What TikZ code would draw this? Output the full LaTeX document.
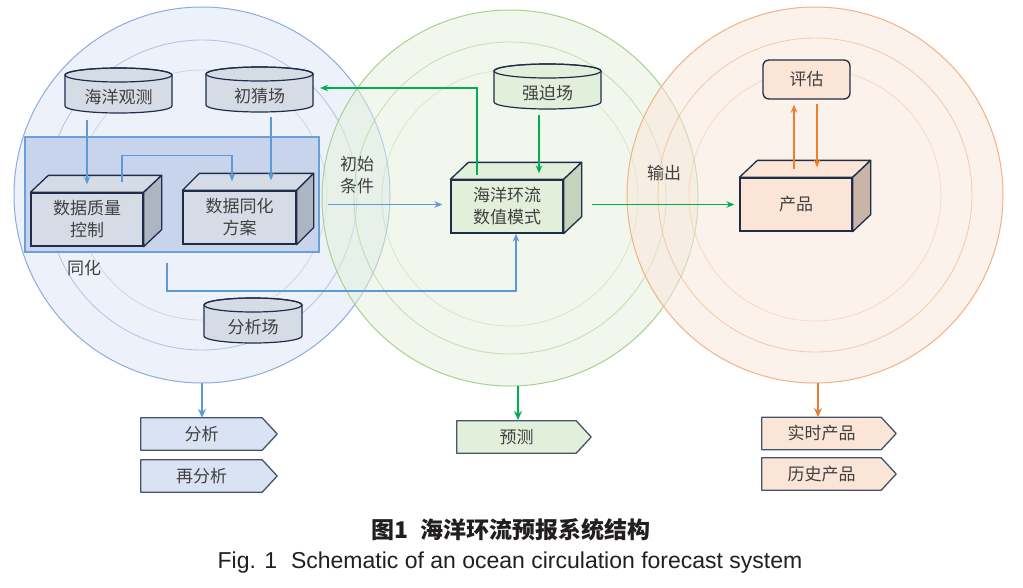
\documentclass[tikz,border=0pt]{standalone}
\usepackage{fontspec}
\setmainfont{Liberation Sans}
\newfontfamily\cjk{Noto Sans CJK SC}
\usetikzlibrary{calc,arrows.meta}
\pgfdeclarelayer{back}
\pgfdeclarelayer{mid}
\pgfsetlayers{back,mid,main}
\definecolor{bl}{HTML}{5B9BD5}
\definecolor{gr}{HTML}{00B050}
\definecolor{org}{HTML}{ED7D31}
\definecolor{edge}{HTML}{1F2D4A}
\definecolor{edgeb}{HTML}{44546A}
\definecolor{txt}{HTML}{404040}
\definecolor{cylfill}{HTML}{D6DCE5}
\definecolor{cubeside}{HTML}{ADB5C2}
\definecolor{modfront}{HTML}{E2EFDA}
\definecolor{modside}{HTML}{C5D3BD}
\definecolor{prodfront}{HTML}{FBE5D6}
\definecolor{prodside}{HTML}{C9B5A8}
\definecolor{assimfill}{HTML}{C7D4EC}
\definecolor{assimline}{HTML}{6A9FD8}
\definecolor{sigblue}{HTML}{DAE3F3}
\definecolor{siggreen}{HTML}{E2EFDA}
\definecolor{sigorange}{HTML}{FBE5D6}
\definecolor{cbfill}{HTML}{DDE6F6}
\definecolor{cbline}{HTML}{8FAADC}
\definecolor{cgfill}{HTML}{E4F0DB}
\definecolor{cgline}{HTML}{A9D18E}
\definecolor{cofill}{HTML}{FBE6DA}
\definecolor{coline}{HTML}{F4B183}
\definecolor{captxt}{HTML}{231F20}

\tikzset{
  lbl/.style={font=\cjk\fontsize{17pt}{22pt}\selectfont, text=txt, align=center, inner sep=0pt},
  cyltext/.style={lbl, minimum height=32pt},
  cube/.style={lbl, draw=edge, line width=1.3pt, minimum height=53pt},
  sigtext/.style={lbl, minimum height=32pt},
  bigcircle/.style={circle, inner sep=0pt, outer sep=0pt, minimum size=376pt, fill opacity=0.5, line width=1pt},
  conn/.style={line width=1.6pt, -{Stealth[length=8pt,width=6.5pt]}},
  barr/.style={conn, draw=bl},
  garr/.style={conn, draw=gr},
  oarr/.style={conn, draw=org},
  thick arr/.style={line width=2.6pt, -{Stealth[length=9pt,width=8pt]}},
}

\newcommand\cylshape[3]{%
  \begin{pgfonlayer}{mid}
  \path[draw=edge, line width=1.2pt, fill=#3] ([shift={(-#2pt,22pt)}]#1.center) -- ([shift={(-#2pt,-9pt)}]#1.center) arc[start angle=180,end angle=360,x radius=#2pt,y radius=7pt] -- ([shift={(#2pt,22pt)}]#1.center) arc[start angle=0,end angle=180,x radius=#2pt,y radius=7pt] -- cycle;
  \draw[edge, line width=1.2pt] ([yshift=22pt]#1.center) ellipse[x radius=#2pt,y radius=7pt];
  \end{pgfonlayer}}

\newcommand\cubefaces[4]{%
  \path[draw=edge, line width=1.3pt, line join=round, fill=#3] (#1.north west) -- ++(#2pt,17pt) -- ([shift={(#2pt,17pt)}]#1.north east) -- (#1.north east) -- cycle;
  \path[draw=edge, line width=1.3pt, line join=round, fill=#4] (#1.north east) -- ++(#2pt,17pt) -- ([shift={(#2pt,17pt)}]#1.south east) -- (#1.south east) -- cycle;}

\newcommand\sigshape[2]{%
  \begin{pgfonlayer}{mid}
  \path[draw=edgeb, line width=1.3pt, line join=round, fill=#2] (#1.north west) -- (#1.north east) -- ([xshift=15pt]#1.east) -- (#1.south east) -- (#1.south west) -- cycle;
  \end{pgfonlayer}}

\begin{document}
\begin{tikzpicture}[x=1pt,y=-1pt]
\useasboundingbox (0,0) rectangle (1023,587);

% big circles
\begin{pgfonlayer}{back}
\fill[white] (0,0) rectangle (1023,587);
\node[bigcircle, fill=cbfill, draw=cbline] (bc) at (202,195) {};
\draw[cbline, opacity=0.6, line width=0.9pt] (bc.center) circle[radius=155pt];
\draw[cbline, opacity=0.35, line width=0.9pt] (bc.center) circle[radius=125pt];
\node[bigcircle, fill=cgfill, draw=cgline] (gc) at (510,198) {};
\draw[cgline, opacity=0.6, line width=0.9pt] (gc.center) circle[radius=156pt];
\draw[cgline, opacity=0.35, line width=0.9pt] (gc.center) circle[radius=128pt];
\node[bigcircle, fill=cofill, draw=coline] (oc) at (815,195) {};
\draw[coline, opacity=0.6, line width=0.9pt] (oc.center) circle[radius=157pt];
\draw[coline, opacity=0.35, line width=0.9pt] (oc.center) circle[radius=126pt];
\node[draw=assimline, fill=assimfill, line width=1.5pt, inner sep=0pt, minimum width=294pt, minimum height=115pt] (assim) at (172,194.5) {};
\end{pgfonlayer}

% cylinders
\node[cyltext, minimum width=107pt] (obs) at (118.5,97) {海洋观测};
\cylshape{obs}{53.5}{cylfill}
\node[cyltext, minimum width=107pt] (guess) at (259.5,96) {初猜场};
\cylshape{guess}{53.5}{cylfill}
\node[cyltext, minimum width=98pt] (ana) at (253,327) {分析场};
\cylshape{ana}{49}{cylfill}
\node[cyltext, minimum width=107pt] (force) at (547.5,93) {强迫场};
\cylshape{force}{53.5}{modfront}

% cubes
\node[cube, fill=cylfill, minimum width=112pt] (qc) at (87,219.5) {数据质量\\控制};
\cubefaces{qc}{18}{cylfill}{cubeside}
\node[cube, fill=cylfill, minimum width=113pt] (scheme) at (239.5,217.5) {数据同化\\方案};
\cubefaces{scheme}{17}{cylfill}{cubeside}
\node[cube, fill=modfront, minimum width=112pt] (model) at (507,206.5) {海洋环流\\数值模式};
\cubefaces{model}{18}{modfront}{modside}
\node[cube, fill=prodfront, minimum width=112pt] (prod) at (796,204.5) {产品};
\cubefaces{prod}{18}{prodfront}{prodside}

% evaluation
\node[lbl, draw=edge, line width=1.3pt, fill=prodfront, rounded corners=6pt, minimum width=87pt, minimum height=39pt] (eval) at (806.5,79.5) {评估};

% labels
\node[lbl] (tonghua) at (84,268) {同化};
\node[lbl] (chushi) at (357,175) {初始\\条件};
\node[lbl] (shuchu) at (664,173) {输出};

% connectors
\draw[barr] ($(obs.south -| qc.north)+(0,7)$) -- ($(qc.north)+(0,-8)$);
\draw[barr] ($(guess.south)+(11.5,5)$) -- ($(scheme.north)+(31.5,-10)$);
\draw[barr] ($(qc.north)+(35,-10)$) -- ++(0,-27) -| ($(scheme.north)+(-7.5,-9)$);
\draw[barr] ($(assim.south west)+(143,10)$) -- ++(0,28) -| ($(model.south)+(9,0)$);
\draw[barr] ($(assim.east)+(8,10)$) -- ($(model.west)+(-8,-2)$);
\draw[garr] ($(model.north)+(-30,-4)$) |- ($(guess.east)+(7,-8)$);
\draw[garr] ($(force.south)+(-8.5,6)$) -- ($(model.north)+(32,-6)$);
\draw[garr] ($(model.east)+(28,-2)$) -- ($(prod.west)+(-5,0)$);
\draw[oarr] ($(prod.north)+(-2,-8)$) -- ($(eval.south)+(-12.5,5)$);
\draw[oarr] ($(eval.south)+(10.5,4)$) -- ($(prod.north)+(21,-10)$);

% output pentagons
\node[sigtext, minimum width=121pt] (fenxi) at (201.5,434) {分析};
\sigshape{fenxi}{sigblue}
\node[sigtext, minimum width=121pt] (zaifenxi) at (201.5,476) {再分析};
\sigshape{zaifenxi}{sigblue}
\node[sigtext, minimum width=119pt] (yuce) at (516.5,437) {预测};
\sigshape{yuce}{siggreen}
\node[sigtext, minimum width=119pt] (shishi) at (821.5,433.5) {实时产品};
\sigshape{shishi}{sigorange}
\node[sigtext, minimum width=119pt] (lishi) at (821.5,474) {历史产品};
\sigshape{lishi}{sigorange}

\draw[thick arr, bl] (bc.south) -- (bc.south |- fenxi.north);
\draw[thick arr, gr] ($(gc.south)+(8,0)$) -- ($(gc.south -| yuce.north)+(1.5,34)$);
\draw[thick arr, org] ($(oc.south)+(3,0)$) -- ($(oc.south)+(3,34)$);

% captions
\node[font=\cjk\bfseries\fontsize{23pt}{27pt}\selectfont, text=captxt, inner sep=0pt] (cap1) at (511,530) {图1\hspace{0.5em}海洋环流预报系统结构};
\node[font=\fontsize{23pt}{27pt}\selectfont, text=captxt, inner sep=0pt] (cap2) at (510,563) {Fig. 1\hspace{0.6em}Schematic of an ocean circulation forecast system};
\end{tikzpicture}
\end{document}
